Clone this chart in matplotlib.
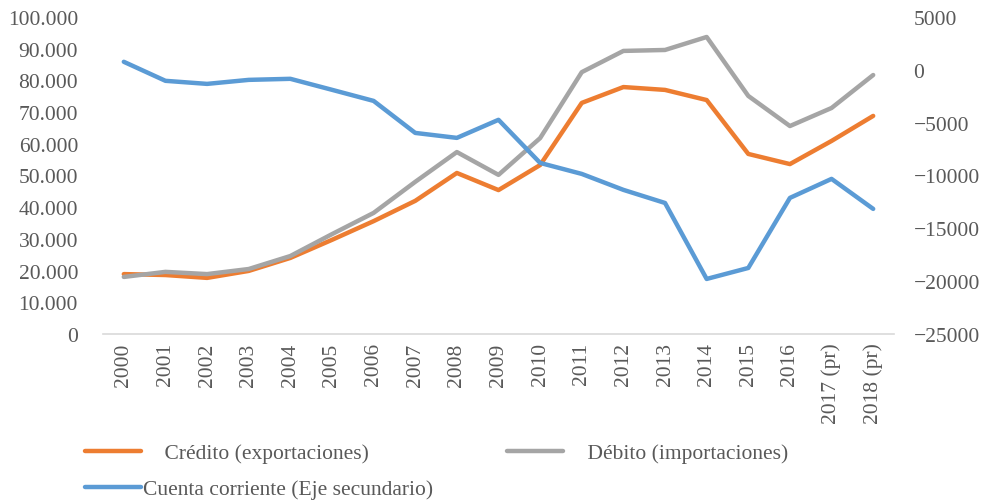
import matplotlib.pyplot as plt
from matplotlib.ticker import FuncFormatter

# ---------- data ----------
years = ["2000", "2001", "2002", "2003", "2004", "2005", "2006", "2007", "2008",
         "2009", "2010", "2011", "2012", "2013", "2014", "2015", "2016",
         "2017 (pr)", "2018 (pr)"]
credito = [18900, 18600, 17700, 19900, 24000, 29700, 35600, 42000, 50800,
           45400, 53300, 72900, 77900, 77000, 73800, 56800, 53600, 60900, 68800]
debito = [18000, 19600, 18900, 20500, 24600, 31500, 38200, 48000, 57400,
          50200, 61800, 82600, 89300, 89600, 93700, 75100, 65600, 71300, 81700]
cuenta = [760, -1040, -1330, -950, -850, -1890, -2940, -5970, -6440,
          -4730, -8810, -9850, -11360, -12600, -19790, -18750, -12120, -10320, -13160]

ORANGE = "#ED7D31"
GRAY = "#A5A5A5"
BLUE = "#5B9BD5"
TXT = "#595959"

plt.rcParams["font.family"] = ["Liberation Serif", "DejaVu Serif"]
plt.rcParams["font.size"] = 15.5

fig = plt.figure(figsize=(9.82, 5.02), dpi=100)
W, H = 982, 502
ax = fig.add_axes([103 / W, 1 - 335 / H, (894 - 103) / W, (335 - 18) / H])
ax2 = ax.twinx()

x = list(range(len(years)))
l1, = ax.plot(x, credito, color=ORANGE, lw=3.2, solid_capstyle="round",
              label="    Crédito (exportaciones)")
l2, = ax.plot(x, debito, color=GRAY, lw=3.2, solid_capstyle="round",
              label="    Débito (importaciones)")
l3, = ax2.plot(x, cuenta, color=BLUE, lw=3.2, solid_capstyle="round",
               label="Cuenta corriente (Eje secundario)")

ax.set_xlim(-0.5, len(years) - 0.5)
ax.set_ylim(0, 100000)
ax.set_yticks(range(0, 100001, 10000))
ax.yaxis.set_major_formatter(FuncFormatter(lambda v, p: f"{int(v):,}".replace(",", ".")))
ax2.set_ylim(-25000, 5000)
ax2.set_yticks(range(-25000, 5001, 5000))

ax.set_xticks(x)
ax.set_xticklabels(years, rotation=90)

for a in (ax, ax2):
    for s in ("top", "left", "right", "bottom"):
        a.spines[s].set_visible(False)
    a.tick_params(length=0, colors=TXT, labelsize=15.5)
ax.spines["bottom"].set_visible(True)
ax.spines["bottom"].set_color("#D9D9D9")
ax.spines["bottom"].set_linewidth(1.2)
ax.tick_params(axis="y", pad=18)
ax.tick_params(axis="x", pad=6)
ax2.tick_params(axis="y", pad=14)

# legend: two columns, Crédito / Cuenta in the first, Débito in the second
leg = fig.legend([l1, l3, l2], [l1.get_label(), l3.get_label(), l2.get_label()],
                 ncol=2, loc="lower left", bbox_to_anchor=(72 / W, -11 / H),
                 frameon=False, handlelength=2.6, handletextpad=0.1,
                 columnspacing=3.45, labelspacing=0.73, borderaxespad=0.2)
for t in leg.get_texts():
    t.set_color(TXT)

fig.savefig("out.png", dpi=100)
